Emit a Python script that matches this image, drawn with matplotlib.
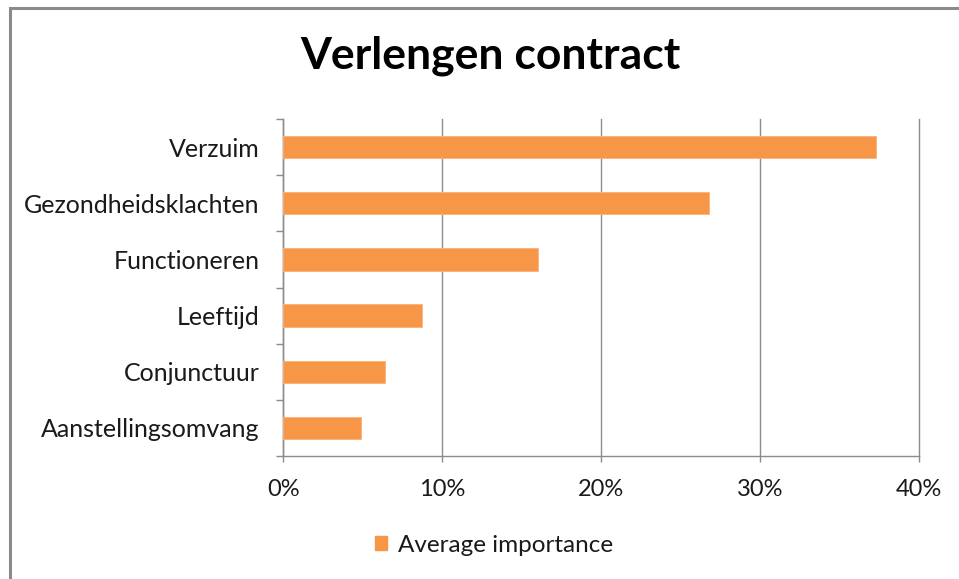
import matplotlib
matplotlib.use("Agg")
import matplotlib.pyplot as plt
from matplotlib.patches import Rectangle, Patch
from matplotlib.ticker import FuncFormatter

# data (in %)
categories = ["Verzuim", "Gezondheidsklachten", "Functioneren",
              "Leeftijd", "Conjunctuur", "Aanstellingsomvang"]
values = [37.3, 26.8, 16.0, 8.7, 6.4, 4.9]
x_ticks = [0, 10, 20, 30, 40]

BAR = "#F79646"
GRID = "#8c8c8c"
TXT = "#1a1a1a"
FONT = "Lato"

plt.rcParams["font.family"] = [FONT, "DejaVu Sans"]

fig = plt.figure(figsize=(9.59, 5.79), dpi=100)
ax = fig.add_axes([0.2956, 0.2124, 0.6622, 0.5821])

pos = list(range(len(categories)))[::-1]
ax.barh(pos, values, height=0.4, color=BAR, edgecolor="#fbb27a", linewidth=0.6, zorder=3)

ax.set_xlim(0, 40)
ax.set_ylim(-0.5, len(categories) - 0.5)

# vertical gridlines
ax.set_xticks(x_ticks)
ax.xaxis.set_major_formatter(FuncFormatter(lambda v, _: f"{v:.0f}%"))
ax.grid(axis="x", color=GRID, linewidth=1.0, zorder=0)
for gl in ax.get_xgridlines():
    gl.set_clip_on(False)  # keep the 40% line at full width on the edge
ax.tick_params(axis="x", direction="out", length=4.3, width=1, color=GRID,
               labelsize=17, pad=12, labelcolor=TXT)

# category ticks at boundaries, labels at centres
ax.set_yticks([p + 0.5 for p in range(-1, len(categories))])
ax.set_yticklabels([])
ax.set_yticks(pos, minor=True)
ax.set_yticklabels(categories, minor=True)
ax.tick_params(axis="y", which="major", direction="out", length=5, width=1, color=GRID)
ax.tick_params(axis="y", which="minor", length=0, pad=17, labelsize=18, labelcolor=TXT)

for s in ["top", "right"]:
    ax.spines[s].set_visible(False)
for s in ["left", "bottom"]:
    ax.spines[s].set_color(GRID)
    ax.spines[s].set_linewidth(1.0)

fig.text(0.511, 1 - 68 / 579, "Verlengen contract", ha="center", va="baseline",
         fontsize=32, fontweight="bold", color="black")

fig.legend(handles=[Patch(facecolor=BAR, edgecolor=BAR, label="Average importance")],
           loc="center", bbox_to_anchor=(0.515, 1 - 545 / 579), frameon=False,
           handlelength=0.5, handleheight=0.5, handletextpad=0.45, fontsize=17.5,
           labelcolor=TXT)

# outer chart frame (cut off on the right and bottom)
fig.patches.append(Rectangle((9.5 / 959, -0.02), 1.05, 1 - 7.5 / 579 + 0.02,
                             transform=fig.transFigure, fill=False,
                             edgecolor="#8a8a8a", linewidth=2.2))

fig.savefig("out.png", dpi=100, facecolor="white")
